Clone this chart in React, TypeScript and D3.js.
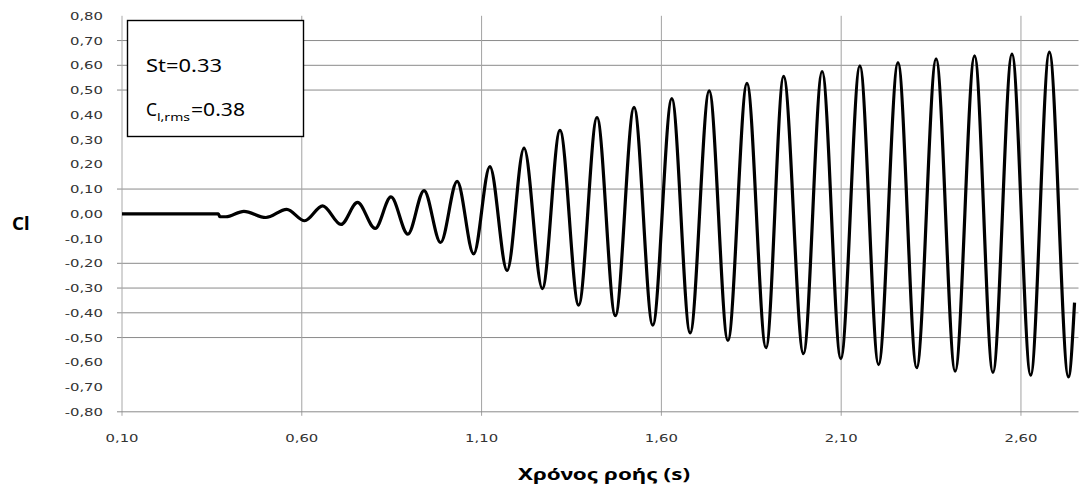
import React from "react";
import * as d3 from "d3";

// flow time (s) and lift coefficient (extrema of the signal)
const times = [
  0.10, 0.368, 0.372, 0.389, 0.439, 0.500, 0.558, 0.608, 0.658, 0.709, 0.755, 0.804,
  0.848, 0.895, 0.940, 0.986, 1.032, 1.078, 1.123, 1.171, 1.218, 1.269, 1.318, 1.370,
  1.421, 1.472, 1.524, 1.576, 1.629, 1.680, 1.733, 1.785, 1.838, 1.891, 1.940, 1.995,
  2.047, 2.099, 2.152, 2.204, 2.258, 2.310, 2.364, 2.417, 2.471, 2.522, 2.575, 2.627,
  2.679, 2.732, 2.749,
];
const clValues = [
  0, 0, -0.012, -0.012, 0.010, -0.015, 0.018, -0.028, 0.032, -0.043, 0.046, -0.059,
  0.068, -0.082, 0.094, -0.116, 0.131, -0.162, 0.191, -0.229, 0.265, -0.302, 0.337, -0.369,
  0.389, -0.412, 0.430, -0.450, 0.465, -0.481, 0.497, -0.512, 0.527, -0.541, 0.555, -0.565,
  0.575, -0.585, 0.598, -0.609, 0.611, -0.622, 0.626, -0.636, 0.638, -0.641, 0.645, -0.652,
  0.653, -0.659, -0.359,
];

const xTicks = [0.10, 0.60, 1.10, 1.60, 2.10, 2.60];
const yTicks = d3.range(-8, 9).map((d) => d / 10);
// only these horizontal gridlines show in the picture
const yGrid = [0.70, 0.60, 0.50, 0.10, -0.20, -0.30, -0.40, -0.50];

const xTitle = "Χρόνος ροής (s)";
const yTitle = "Cl";
const stText = "St=0.33";
const rmsValue = "=0.38";

const W = 1080;
const H = 485;
const M = { left: 122, right: 1078.5, top: 15.8, bottom: 411.8 };

const locale = d3.formatLocale({ decimal: ",", thousands: ".", grouping: [3], currency: ["", "€"], minus: "-" });
const fmt = locale.format(".2f");

export default function App() {
  const x = d3.scaleLinear().domain([0.10, 2.76]).range([M.left, M.right]);
  const y = d3.scaleLinear().domain([-0.8, 0.8]).range([M.bottom, M.top]);

  const points = times.map((t, i) => [t, clValues[i]] as [number, number]);
  const line = d3
    .line<[number, number]>()
    .x((d) => x(d[0]))
    .y((d) => y(d[1]))
    .curve(d3.curveMonotoneX);

  const tickFont = { fontFamily: "'DejaVu Sans', Verdana, sans-serif", fontSize: 11, fill: "#333" };

  return (
    <svg width={W} height={H} style={{ position: "absolute", left: 0, top: 0, background: "#fff" }}>
      {/* horizontal gridlines with their ticks */}
      {yGrid.map((v) => (
        <line key={"h" + v} x1={M.left - 5} x2={M.right} y1={y(v)} y2={y(v)} stroke="#8a8a8a" strokeWidth={1} />
      ))}
      {/* vertical gridlines */}
      {xTicks.slice(1).map((v) => (
        <line key={"v" + v} x1={x(v)} x2={x(v)} y1={M.top} y2={M.bottom + 4} stroke="#a2a2a2" strokeWidth={1} />
      ))}
      {/* axes */}
      <line x1={M.left} x2={M.left} y1={M.top} y2={M.bottom + 4} stroke="#a8a8a8" strokeWidth={1} />
      <line x1={M.left - 5} x2={M.right} y1={M.bottom} y2={M.bottom} stroke="#8a8a8a" strokeWidth={1} />

      {/* y tick labels */}
      {yTicks.map((v) => (
        <text
          key={"yl" + v}
          transform={`translate(103,${y(v)}) scale(1.35,1)`}
          textAnchor="end"
          dy="0.36em"
          {...tickFont}
        >
          {fmt(v)}
        </text>
      ))}
      {/* x tick labels */}
      {xTicks.map((v) => (
        <text
          key={"xl" + v}
          transform={`translate(${x(v)},441.5) scale(1.35,1)`}
          textAnchor="middle"
          {...tickFont}
        >
          {fmt(v)}
        </text>
      ))}

      {/* signal */}
      <path d={line(points) || ""} fill="none" stroke="#000" strokeWidth={3.2} strokeLinejoin="round" />

      {/* annotation box */}
      <rect x={127.5} y={20.5} width={176} height={116} fill="#fff" stroke="#000" strokeWidth={1.4} />
      <text x={146} y={71.5} fontFamily="'Noto Sans', sans-serif" fontSize={18} textLength={76} lengthAdjust="spacingAndGlyphs">
        {stText}
      </text>
      <text x={146} y={115.5} fontFamily="'Noto Sans', sans-serif" fontSize={18} textLength={11} lengthAdjust="spacingAndGlyphs">
        C
      </text>
      <text x={157} y={120.5} fontFamily="'Noto Sans', sans-serif" fontSize={11} textLength={33} lengthAdjust="spacingAndGlyphs">
        l,rms
      </text>
      <text x={191} y={115.5} fontFamily="'Noto Sans', sans-serif" fontSize={18} textLength={54} lengthAdjust="spacingAndGlyphs">
        {rmsValue}
      </text>

      {/* axis titles */}
      <text x={518} y={480} fontFamily="'Noto Sans', sans-serif" fontWeight="bold" fontSize={16} textLength={172} lengthAdjust="spacingAndGlyphs">
        {xTitle}
      </text>
      <text x={12} y={230} fontFamily="'Noto Sans', sans-serif" fontWeight="bold" fontSize={18} textLength={17.5} lengthAdjust="spacingAndGlyphs">
        {yTitle}
      </text>
    </svg>
  );
}
